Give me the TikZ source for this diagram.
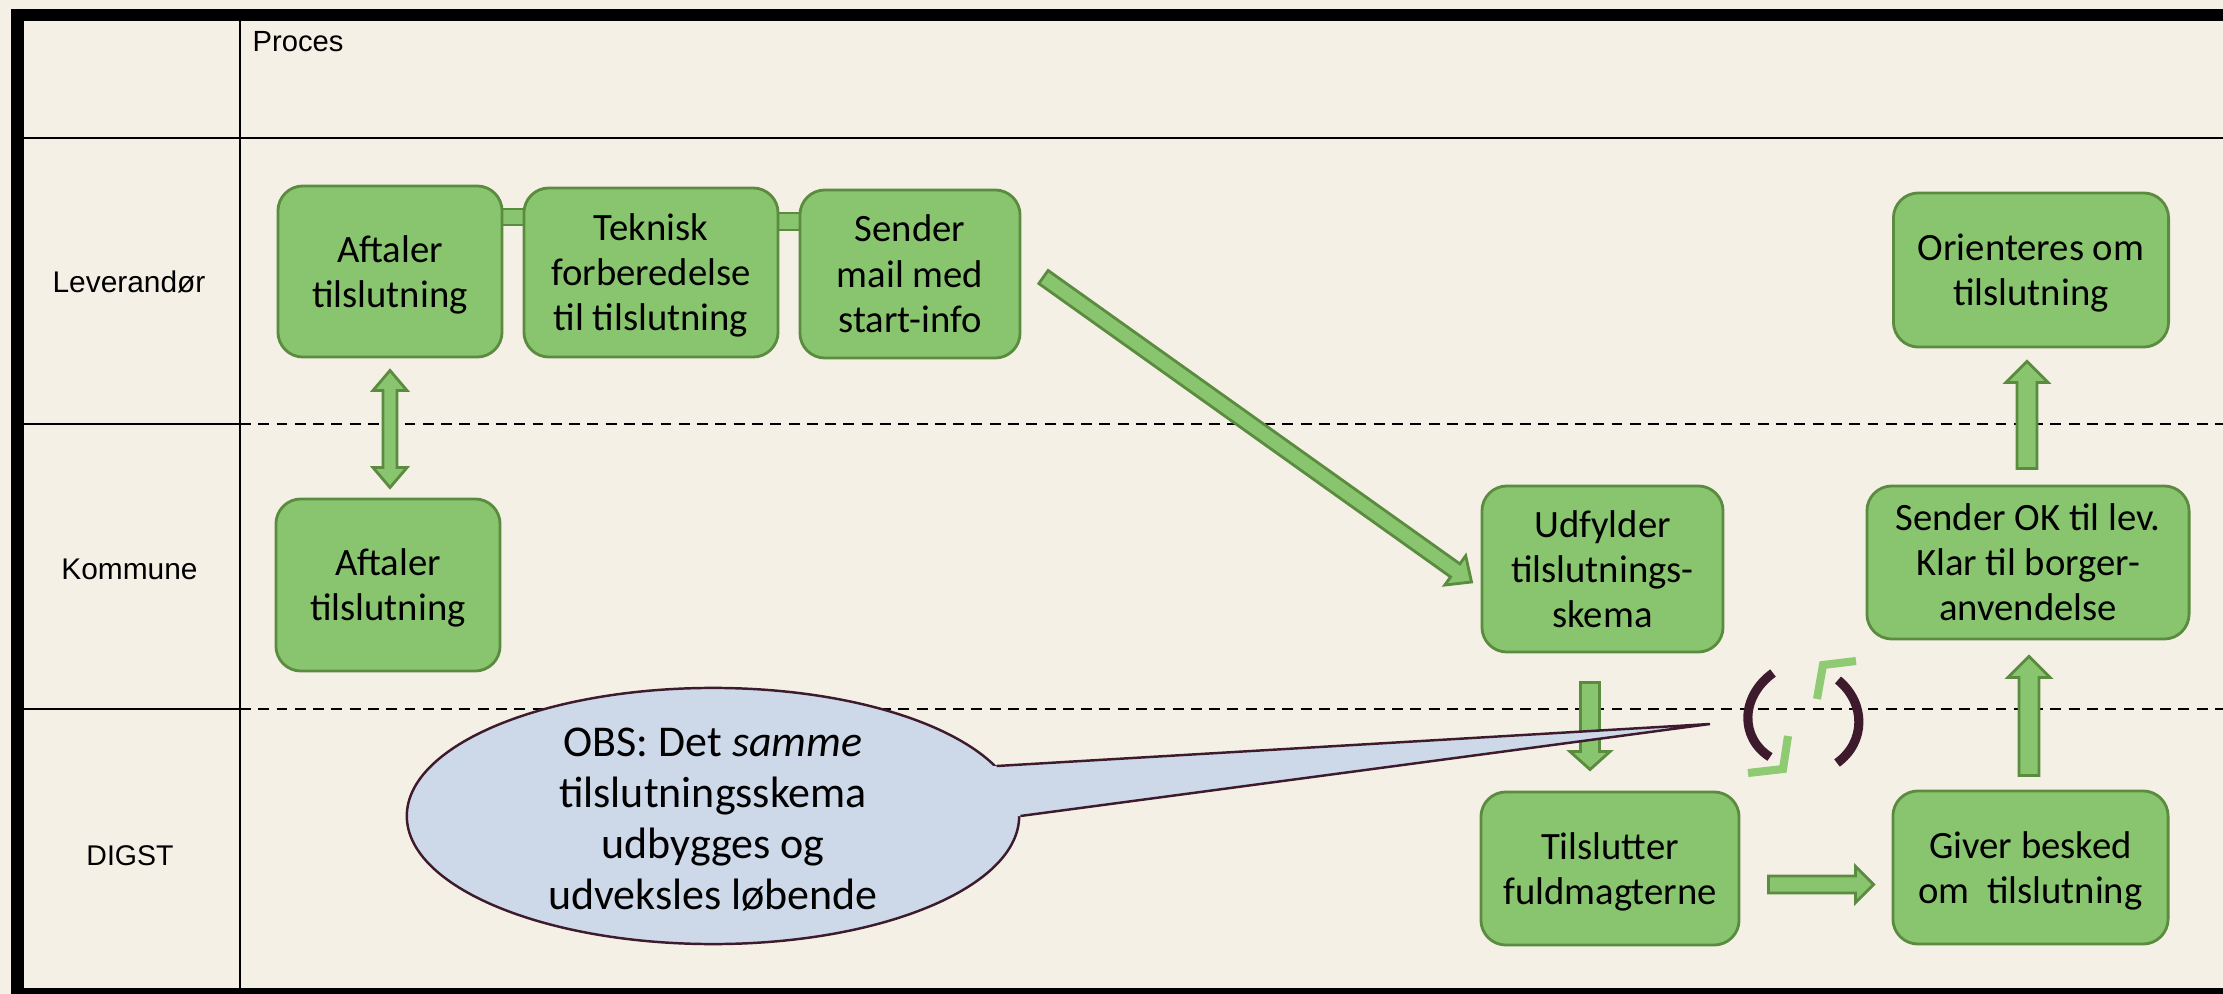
\documentclass[tikz,border=0pt]{standalone}
\usepackage{fontspec}
\setmainfont{Carlito}
\newfontfamily\lanefont{Liberation Sans}
\usetikzlibrary{calc,shapes.geometric}
\definecolor{bgc}{HTML}{F4F0E6}
\definecolor{gfill}{HTML}{89C56E}
\definecolor{gline}{HTML}{5A8B3E}
\definecolor{cfill}{HTML}{CDD8E8}
\definecolor{cline}{HTML}{3E1B2C}
\definecolor{lgreen}{HTML}{8ECB72}
\newcommand{\bts}{\rule{0pt}{10.4pt}}
\newcommand{\bbs}{\rule[-3pt]{0pt}{3pt}}
\tikzset{
  procbox/.style={draw=gline, fill=gfill, line width=0.8pt, rounded corners=0.25cm, align=center, inner sep=0pt, font=\fontsize{11}{12.8}\selectfont},
  arrowbody/.style={draw=gline, fill=gfill, line width=0.8pt, line join=miter},
  lanelabel/.style={font=\lanefont\fontsize{8.5}{10}\selectfont, anchor=base, inner sep=0pt},
  frameline/.style={line width=0.12cm, black},
  gridline/.style={line width=0.7pt, black},
  laneline/.style={line width=0.7pt, black, dash pattern=on 3.1pt off 2.1pt},
}
% single block arrow: start, end, half shaft, half head, head length
\newcommand{\blockarrow}[5]{%
  \coordinate (ba-s) at (#1);
  \coordinate (ba-e) at (#2);
  \coordinate (ba-h) at ($(ba-e)!#5!(ba-s)$);
  \draw[arrowbody] ($(ba-s)!#3!90:(ba-e)$) -- ($(ba-h)!#3!-90:(ba-s)$) -- ($(ba-h)!#4!-90:(ba-s)$) -- (ba-e) -- ($(ba-h)!#4!90:(ba-s)$) -- ($(ba-h)!#3!90:(ba-s)$) -- ($(ba-s)!#3!-90:(ba-e)$) -- cycle;
}
% double block arrow
\newcommand{\dblockarrow}[5]{%
  \coordinate (ba-s) at (#1);
  \coordinate (ba-e) at (#2);
  \coordinate (ba-ha) at ($(ba-s)!#5!(ba-e)$);
  \coordinate (ba-hb) at ($(ba-e)!#5!(ba-s)$);
  \draw[arrowbody] (ba-s) -- ($(ba-ha)!#4!90:(ba-e)$) -- ($(ba-ha)!#3!90:(ba-e)$) -- ($(ba-hb)!#3!-90:(ba-s)$) -- ($(ba-hb)!#4!-90:(ba-s)$) -- (ba-e) -- ($(ba-hb)!#4!90:(ba-s)$) -- ($(ba-hb)!#3!90:(ba-s)$) -- ($(ba-ha)!#3!-90:(ba-e)$) -- ($(ba-ha)!#4!-90:(ba-e)$) -- cycle;
}
\begin{document}
\begin{tikzpicture}[x=0.01cm, y=-0.01cm]
\useasboundingbox (0,0) rectangle (2223,994);
\fill[bgc] (0,0) rectangle (2223,994);

% grid
\draw[gridline] (240,20) -- (240,990);
\draw[gridline] (22,138) -- (2223,138);
\draw[gridline] (22,424) -- (240,424);
\draw[gridline] (22,709) -- (240,709);
\draw[laneline] (240,424) -- (2223,424);
\draw[laneline] (240,709) -- (2223,709);
% frame
\draw[frameline] (11,15) -- (2223,15);
\draw[frameline] (17.5,9) -- (17.5,994);
\draw[frameline] (11,994) -- (2223,994);

% labels
\node[lanelabel, anchor=base west, font=\lanefont\fontsize{8.3}{10}\selectfont] (lproc) at (252,52) {Proces};
\node[lanelabel] (llev) at (129,293) {Leverandør};
\node[lanelabel] (lkom) at (129.5,579) {Kommune};
\node[lanelabel, font=\lanefont\fontsize{8.1}{10}\selectfont] (ldig) at (130,865) {DIGST};

% connecting bars (behind boxes)
\draw[arrowbody] (499,209) rectangle (527,225);
\draw[arrowbody] (775,213) rectangle (803,230);

% boxes
\node[procbox, minimum width=2.24cm, minimum height=1.71cm] (lev1) at (390,271.5) {\bts Aftaler\\tilslutning\bbs};
\node[procbox, minimum width=2.54cm, minimum height=1.69cm] (tek) at (651,272.5) {\bts Teknisk\\forberedelse\\til tilslutning\bbs};
\node[procbox, minimum width=2.20cm, minimum height=1.68cm] (send) at (910,274) {\bts Sender\\mail med\\start-info\bbs};
\node[procbox, minimum width=2.75cm, minimum height=1.54cm] (ori) at (2031,270) {\bts Orienteres om\\tilslutning\bbs};
\node[procbox, minimum width=2.24cm, minimum height=1.72cm] (kom1) at (388,585) {\bts Aftaler\\tilslutning\bbs};
\node[procbox, minimum width=2.41cm, minimum height=1.66cm] (udf) at (1602.5,569) {\bts Udfylder\\tilslutnings-\\skema\bbs};
\node[procbox, minimum width=3.22cm, minimum height=1.53cm] (ok) at (2028,562.5) {\bts Sender OK til lev.\\Klar til borger-\\anvendelse\bbs};
\node[procbox, minimum width=2.58cm, minimum height=1.53cm] (til) at (1610,868.5) {\bts Tilslutter\\fuldmagterne\bbs};
\node[procbox, minimum width=2.75cm, minimum height=1.53cm] (giv) at (2030.5,867.5) {\bts Giver besked\\om\ \ tilslutning\bbs};

% arrows
\dblockarrow{$(lev1.south)+(0,12)$}{$(lev1.south |- kom1.north)+(0,-10)$}{0.07cm}{0.17cm}{0.20cm}
\blockarrow{$(send.east)+(22,3)$}{$(udf.west)+(-9,13)$}{0.08cm}{0.18cm}{0.20cm}
\blockarrow{$(udf.south)+(-12.5,29)$}{$(til.north)+(-20,-21)$}{0.095cm}{0.20cm}{0.18cm}
\blockarrow{$(til.east)+(28,16)$}{$(giv.west)+(-18,17)$}{0.085cm}{0.18cm}{0.18cm}
\blockarrow{$(giv.north)+(-1.5,-14)$}{$(ok.south)+(1,16)$}{0.10cm}{0.21cm}{0.21cm}
\blockarrow{$(ok.north)+(-1,-16)$}{$(ori.south)+(-4,13)$}{0.10cm}{0.21cm}{0.21cm}

% callout
\node[ellipse, draw=cline, fill=cfill, line width=0.7pt, minimum width=6.12cm, minimum height=2.56cm, inner sep=0pt] (obs) at (713,816) {};
\coordinate (ptip) at (1710,724);
\fill[cfill] (obs.10) -- (ptip) -- (obs.0) -- ([xshift=-0.15cm]obs.0) -- ([xshift=-0.15cm]obs.10) -- cycle;
\draw[cline, line width=0.7pt] (obs.10) -- (ptip) -- (obs.0);
\node[align=center, inner sep=0pt, font=\fontsize{12.5}{14.5}\selectfont] (obstext) at (713,820) {OBS: Det \textit{samme}\\tilslutningsskema\\udbygges og\\udveksles løbende};

% refresh icon
\draw[cline, line width=2.6pt] (1773,673) .. controls (1740,697) and (1740,738) .. (1770,757);
\draw[cline, line width=2.6pt] (1838,680) .. controls (1866,703) and (1866,742) .. (1837,763);
\draw[lgreen, line width=2.3pt] (1817,699) -- (1823,665) -- (1856,661);
\draw[lgreen, line width=2.3pt] (1788,736) -- (1783,769) -- (1748,773);
\end{tikzpicture}
\end{document}
